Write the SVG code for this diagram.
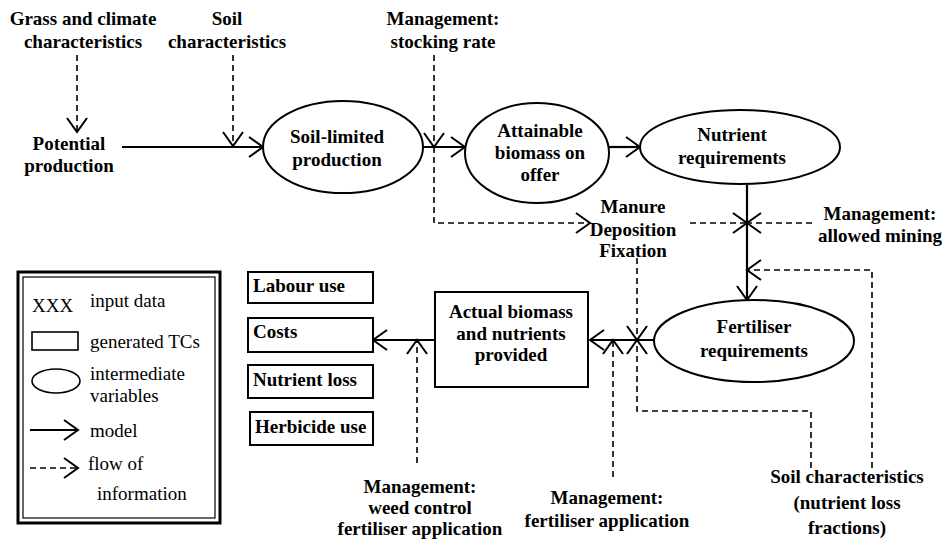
<svg xmlns="http://www.w3.org/2000/svg" width="946" height="539" viewBox="0 0 946 539">
<defs>
<marker id="arr" markerWidth="18" markerHeight="24" refX="15" refY="12" orient="auto" markerUnits="userSpaceOnUse">
<path d="M1,2 L15,12 L1,22" fill="none" stroke="#000" stroke-width="2"/>
</marker>
<style>
text{font-family:'Liberation Serif','DejaVu Serif','Times New Roman',Times,serif;font-size:19px;fill:#000}
.t{font-weight:bold;text-anchor:middle}
.tl{font-weight:bold}
.n{fill:#fff;stroke:#000;stroke-width:2}
.s{fill:none;stroke:#000;stroke-width:2.2;marker-end:url(#arr)}
.d{fill:none;stroke:#000;stroke-width:1.6;stroke-dasharray:6 4;marker-end:url(#arr)}
</style>
</defs>
<rect width="946" height="539" fill="#fff"/>

<g id="connectors">
<path class="d" d="M77,55 V132"/>
<path class="s" d="M122,147 H263"/>
<path class="d" d="M233,55 V146"/>
<path class="s" d="M423,147 H465"/>
<path class="d" d="M434,55 V147"/>
<path class="d" d="M434,147 V223 H590"/>
<path class="s" d="M609,147 H640"/>
<path class="s" d="M747,185 V300"/>
<path class="d" d="M690,223 H747"/>
<path class="d" d="M812,223 H747"/>
<path class="d" d="M872,468 V270 H747"/>
<path class="s" d="M654,340 H590"/>
<path class="d" d="M637,258 V340"/>
<path class="d" d="M811,468 V411 H637 V340"/>
<path class="d" d="M613,477 V340"/>
<path class="s" d="M435,340 H373"/>
<path class="d" d="M417,463 V340"/>
</g>

<g id="grass-climate">
<text class="t" x="83" y="25">Grass and climate</text>
<text class="t" x="83" y="48">characteristics</text>
</g>
<g id="soil-char">
<text class="t" x="227" y="25">Soil</text>
<text class="t" x="227" y="48">characteristics</text>
</g>
<g id="mgmt-stocking">
<text class="t" x="443" y="25">Management:</text>
<text class="t" x="443" y="48">stocking rate</text>
</g>
<g id="potential">
<text class="t" x="69" y="150">Potential</text>
<text class="t" x="69" y="172">production</text>
</g>
<g id="soil-limited">
<ellipse class="n" cx="343" cy="147" rx="80" ry="46"/>
<text class="t" x="337" y="143">Soil-limited</text>
<text class="t" x="337" y="166">production</text>
</g>
<g id="attainable">
<ellipse class="n" cx="537" cy="153" rx="72" ry="50"/>
<text class="t" x="540" y="137">Attainable</text>
<text class="t" x="540" y="159">biomass on</text>
<text class="t" x="540" y="181">offer</text>
</g>
<g id="nutrient-req">
<ellipse class="n" cx="740" cy="147" rx="100" ry="37"/>
<text class="t" x="732" y="141">Nutrient</text>
<text class="t" x="732" y="164">requirements</text>
</g>
<g id="manure">
<text class="t" x="633" y="213">Manure</text>
<text class="t" x="633" y="236">Deposition</text>
<text class="t" x="633" y="257">Fixation</text>
</g>
<g id="mgmt-mining">
<text class="t" x="880" y="220">Management:</text>
<text class="t" x="880" y="242">allowed mining</text>
</g>
<g id="fertiliser-req">
<ellipse class="n" cx="754" cy="341" rx="100" ry="41"/>
<text class="t" x="754" y="333">Fertiliser</text>
<text class="t" x="754" y="357">requirements</text>
</g>
<g id="actual">
<rect class="n" x="435" y="292" width="153" height="95"/>
<text class="t" x="511" y="318">Actual biomass</text>
<text class="t" x="511" y="340">and nutrients</text>
<text class="t" x="511" y="361">provided</text>
</g>
<g id="labour">
<rect class="n" x="248" y="272" width="125" height="31"/>
<text class="tl" x="253" y="292">Labour use</text>
</g>
<g id="costs">
<rect class="n" x="248" y="318" width="125" height="34"/>
<text class="tl" x="253" y="338">Costs</text>
</g>
<g id="nutrient-loss">
<rect class="n" x="248" y="365" width="125" height="33"/>
<text class="tl" x="253" y="386">Nutrient loss</text>
</g>
<g id="herbicide">
<rect class="n" x="250" y="412" width="123" height="33"/>
<text class="tl" x="255" y="433">Herbicide use</text>
</g>
<g id="mgmt-weed">
<text class="t" x="420" y="493">Management:</text>
<text class="t" x="420" y="514">weed control</text>
<text class="t" x="420" y="535">fertiliser application</text>
</g>
<g id="mgmt-fert">
<text class="t" x="607" y="504">Management:</text>
<text class="t" x="607" y="527">fertiliser application</text>
</g>
<g id="soil-loss">
<text class="t" x="847" y="483">Soil characteristics</text>
<text class="t" x="847" y="509">(nutrient loss</text>
<text class="t" x="847" y="534">fractions)</text>
</g>

<g id="legend">
<rect x="18" y="272" width="202" height="251" fill="#fff" stroke="#000" stroke-width="3"/>
<rect x="23" y="277" width="192" height="241" fill="none" stroke="#000" stroke-width="1.2"/>
<text x="32" y="312">XXX</text>
<text x="90" y="307">input data</text>
<rect x="32" y="332" width="46" height="18" fill="none" stroke="#000" stroke-width="1.6"/>
<text x="90" y="348">generated TCs</text>
<ellipse cx="56" cy="381" rx="24" ry="12" fill="none" stroke="#000" stroke-width="1.6"/>
<text x="90" y="380">intermediate</text>
<text x="90" y="402">variables</text>
<path class="s" d="M30,430 H78"/>
<text x="90" y="437">model</text>
<path class="d" d="M30,468 H78"/>
<text x="88" y="470">flow of</text>
<text x="97" y="500">information</text>
</g>
</svg>
